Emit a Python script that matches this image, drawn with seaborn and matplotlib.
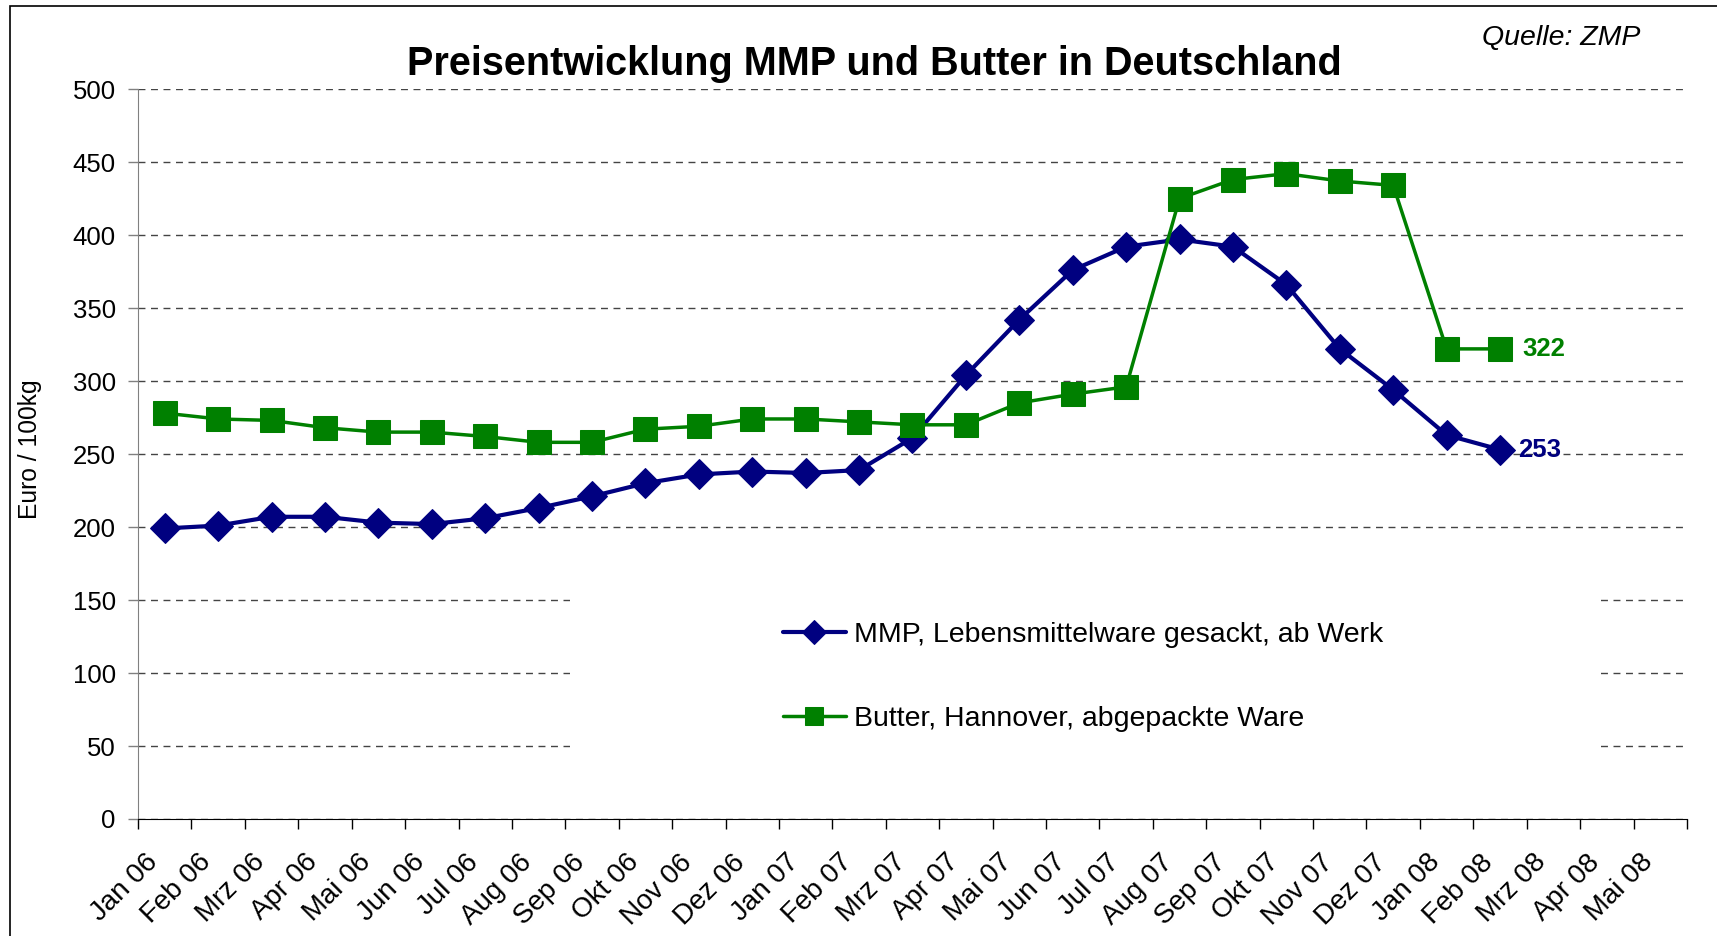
import matplotlib
matplotlib.use("Agg")
import matplotlib.pyplot as plt
import matplotlib.transforms as mtransforms
import seaborn as sns
import numpy as np
import pandas as pd
from matplotlib.patches import Rectangle

sns.set_style("white")
plt.rcParams['font.family'] = ['Liberation Sans', 'DejaVu Sans']
plt.rcParams['text.color'] = 'black'
plt.rcParams['axes.labelcolor'] = 'black'
plt.rcParams['xtick.color'] = 'black'
plt.rcParams['ytick.color'] = 'black'

# month labels on the axis (Jan 06 .. Mai 08)
months = ["Jan 06", "Feb 06", "Mrz 06", "Apr 06", "Mai 06", "Jun 06", "Jul 06", "Aug 06",
          "Sep 06", "Okt 06", "Nov 06", "Dez 06", "Jan 07", "Feb 07", "Mrz 07", "Apr 07",
          "Mai 07", "Jun 07", "Jul 07", "Aug 07", "Sep 07", "Okt 07", "Nov 07", "Dez 07",
          "Jan 08", "Feb 08", "Mrz 08", "Apr 08", "Mai 08"]

# Euro / 100kg, Jan 06 .. Feb 08
mmp = [199, 201, 207, 207, 203, 202, 206, 213, 221, 230, 236, 238, 237,
       239, 261, 304, 342, 376, 392, 397, 392, 366, 322, 294, 263, 253]
butter = [278, 274, 273, 268, 265, 265, 262, 258, 258, 267, 269, 274, 274,
          272, 270, 270, 285, 291, 296, 425, 438, 442, 437, 434, 322, 322]

mmp_label = "MMP, Lebensmittelware gesackt, ab Werk"
butter_label = "Butter, Hannover, abgepackte Ware"

df = pd.DataFrame({"pos": np.arange(len(mmp)), "mmp": mmp, "butter": butter})

blue = "#000080"
green = "#008000"

fig = plt.figure(figsize=(17.17, 9.36), dpi=100)
ax = fig.add_axes([0.0804, 0.125, 0.9021, 0.7799])

sns.lineplot(data=df, x="pos", y="mmp", ax=ax, color=blue, linewidth=3.0,
             marker="D", markersize=15, markeredgecolor=blue, label=mmp_label, zorder=3)
sns.lineplot(data=df, x="pos", y="butter", ax=ax, color=green, linewidth=2.5,
             marker="s", markersize=17, markeredgecolor=green, label=butter_label, zorder=3)

# data labels on the last points
ax.annotate(str(mmp[-1]), (df["pos"].iloc[-1], mmp[-1]), xytext=(13, 0),
            textcoords="offset points", ha="left", va="center",
            fontsize=18.5, fontweight="bold", color=blue)
ax.annotate(str(butter[-1]), (df["pos"].iloc[-1], butter[-1]), xytext=(16, 0),
            textcoords="offset points", ha="left", va="center",
            fontsize=18.5, fontweight="bold", color=green)

ax.set_xlim(-0.5, len(months) - 0.5)
ax.set_ylim(0, 500)
ax.set_yticks(np.arange(0, 501, 50))
ax.set_xticks(np.arange(-0.5, len(months), 1))
ax.set_xticklabels([])
ax.set_xticks(np.arange(len(months)), minor=True)
ax.set_xticklabels(months, minor=True, rotation=45, ha="right", va="center",
                   rotation_mode="anchor", fontsize=20)
ax.tick_params(axis="x", which="major", direction="out", length=7, width=1, color="black", bottom=True)
ax.tick_params(axis="x", which="minor", length=0, pad=27, bottom=True)
ax.tick_params(axis="y", direction="out", length=7, width=1, color="#808080",
               labelcolor="black", labelsize=18.5, pad=9, left=True)

ax.set_axisbelow(True)
ax.grid(axis="y", linestyle=(0, (5, 4)), color="#444444", linewidth=1.0)
ax.grid(axis="x", visible=False)
for s in ["top", "right"]:
    ax.spines[s].set_visible(False)
ax.spines["left"].set_color("#808080")
ax.spines["bottom"].set_color("black")
ax.set_xlabel("")
ax.set_ylabel("")

# white legend area hiding the gridlines
ax.add_patch(Rectangle((0.279, 0.067), 0.6636, 0.271, transform=ax.transAxes,
                       facecolor="white", edgecolor="none", zorder=1.5))
leg = ax.legend(loc="center left", bbox_to_anchor=(783 / 1717, 1 - 677 / 936),
                bbox_transform=fig.transFigure, frameon=False, fontsize=20.5,
                borderpad=0, borderaxespad=0, handlelength=2.2, handletextpad=0.3,
                labelspacing=2.05, markerscale=0.8)

fig.text(874 / 1717, 1 - 75 / 936, "Preisentwicklung MMP und Butter in Deutschland",
         ha="center", va="baseline", fontsize=28.5, fontweight="bold")
fig.text(1482 / 1717, 1 - 45 / 936, "Quelle: ZMP", ha="left", va="baseline",
         fontsize=20.5, style="italic")
fig.text(30 / 1717, 1 - 449 / 936, "Euro / 100kg", rotation=90, ha="center",
         va="center", fontsize=17.7)

# outer chart border
fig.patches.append(Rectangle((10 / 1717, -0.1), 2, 0.1 + 1 - 6 / 936, transform=fig.transFigure,
                             facecolor="none", edgecolor="black", linewidth=1.2))

# nudge the rotated month labels a little to the left
fig.canvas.draw()
shift = mtransforms.ScaledTranslation(-11 / 100, -2 / 100, fig.dpi_scale_trans)
for lab in ax.xaxis.get_minorticklabels():
    lab.set_transform(lab.get_transform() + shift)

fig.savefig("out.png", dpi=100)
